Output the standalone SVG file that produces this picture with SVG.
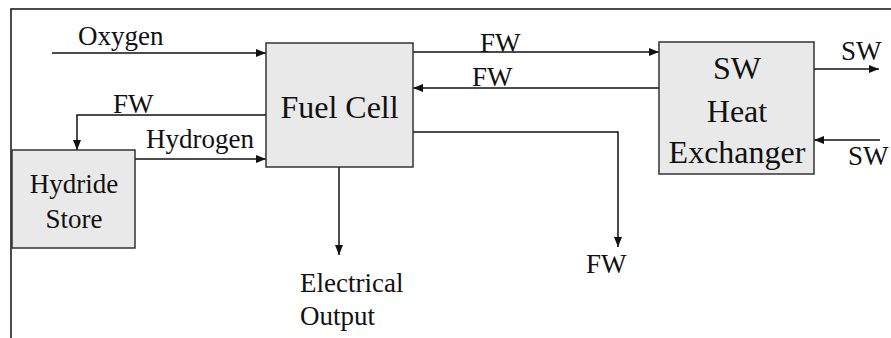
<svg xmlns="http://www.w3.org/2000/svg" width="891" height="338" viewBox="0 0 891 338">
<defs>
<marker id="arr" viewBox="0 0 10 10" refX="10" refY="5" markerWidth="10" markerHeight="10" markerUnits="userSpaceOnUse" orient="auto">
<path d="M0,1 L10,5 L0,9 Z" fill="#111"/>
</marker>
</defs>
<style>
.box{fill:#e9e9e9;stroke:#333;stroke-width:1.5}
.ln{fill:none;stroke:#111;stroke-width:1.5}
.ar{marker-end:url(#arr)}
text{font-family:"Liberation Serif","Times New Roman",serif;fill:#111}
.lbl{font-size:27px}
.big{font-size:32px}
.mid{font-size:27px}
</style>
<rect width="891" height="338" fill="#fff"/>
<g id="frame">
<path class="ln" d="M11,338 L11,9 L891,9"/>
</g>
<g id="connectors">
<path class="ln ar" d="M52,53 L266,53"/>
<path class="ln ar" d="M413,52 L659,52"/>
<path class="ln ar" d="M659,88 L413,88"/>
<path class="ln ar" d="M266,115 L77,115 L77,150"/>
<path class="ln ar" d="M135,159 L266,159"/>
<path class="ln ar" d="M339,167 L339,255"/>
<path class="ln ar" d="M413,132 L618,132 L618,247"/>
<path class="ln ar" d="M814,69 L879,69"/>
<path class="ln ar" d="M880,140 L814,140"/>
<text class="lbl" x="78" y="45">Oxygen</text>
<text class="lbl" x="480" y="52">FW</text>
<text class="lbl" x="472" y="86">FW</text>
<text class="lbl" x="113" y="113">FW</text>
<text class="lbl" x="146" y="148">Hydrogen</text>
<text class="lbl" x="300" y="292">Electrical</text>
<text class="lbl" x="300" y="325">Output</text>
<text class="lbl" x="586" y="273">FW</text>
<text class="lbl" x="841" y="60">SW</text>
<text class="lbl" x="848" y="165">SW</text>
</g>
<g id="fuel-cell">
<rect class="box" x="266" y="43" width="147" height="124"/>
<text class="big" x="339.5" y="118" text-anchor="middle">Fuel Cell</text>
</g>
<g id="hydride-store">
<rect class="box" x="12" y="150" width="123" height="98"/>
<text class="mid" x="74" y="193" text-anchor="middle">Hydride</text>
<text class="mid" x="74" y="228" text-anchor="middle">Store</text>
</g>
<g id="heat-exchanger">
<rect class="box" x="659" y="42" width="155" height="132"/>
<text class="big" x="737" y="79" text-anchor="middle">SW</text>
<text class="big" x="737" y="122" text-anchor="middle">Heat</text>
<text class="big" x="737" y="163" text-anchor="middle">Exchanger</text>
</g>
</svg>
